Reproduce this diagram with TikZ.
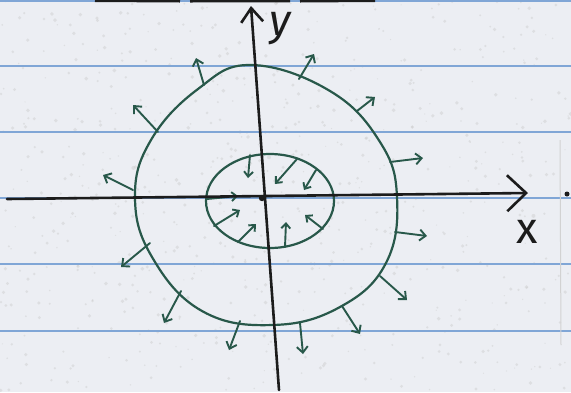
\documentclass[tikz,border=0pt]{standalone}
\usepackage{fontspec}
\newfontfamily\handfont{Fira Sans}
\usetikzlibrary{arrows.meta}
\definecolor{paper}{RGB}{236,238,243}
\definecolor{rule}{RGB}{128,166,214}
\definecolor{ink}{RGB}{40,88,74}
\definecolor{pen}{RGB}{28,28,28}
\tikzset{
  outarr/.style={draw=ink, line width=1.9pt, line cap=round, -{Straight Barb[length=6pt,width=11pt,line width=1.9pt]}},
  inarr/.style={draw=ink, line width=1.9pt, line cap=round, -{Straight Barb[length=5pt,width=9pt,line width=1.9pt]}},
  ruling/.style={draw=rule, line width=2pt},
  axis/.style={draw=pen, line width=2.6pt, line cap=round},
  lab/.style={font=\handfont\fontsize{44}{44}\selectfont, text=pen, inner sep=0pt},
}
\begin{document}
\begin{tikzpicture}[x=1pt,y=-1pt]
\useasboundingbox (0,0) rectangle (571,392);
\fill[paper] (0,0) rectangle (571,392);
\pgfmathsetseed{11}
\foreach \i in {1,...,700} {
  \fill[gray!40, opacity=0.45] (rnd*571, rnd*392) circle (0.6pt+rnd*1.4pt);
}
% ruled lines
\foreach \yy in {1,66,132,198,264,331} {
  \draw[ruling] (0,\yy) -- (571,\yy);
}
% faint margin line
\draw[gray!35, line width=1pt] (560,140) -- (561,345);
% cut-off handwriting at the top
\draw[pen, line width=3pt] (95,0.5) -- (180,1) (190,1) -- (290,0.8) (300,1) -- (375,0.5);
% outer closed curve
\draw[ink, line width=2.2pt] plot[smooth cycle, tension=0.7] coordinates {
  (251,65) (330,91) (380,142) (397,197) (386,263) (340,307) (273,325)
  (202,311) (152,257) (135,197) (151,140) (198,89)};
% inner ellipse
\draw[ink, line width=2.2pt] (270,201) ellipse [x radius=64, y radius=47];
% outer outward arrows
\draw[outarr] (204,85) -- (196,58);
\draw[outarr] (299,79) -- (314,54);
\draw[outarr] (357,111) -- (375,97);
\draw[outarr] (390,162) -- (423,158);
\draw[outarr] (395,232) -- (427,236);
\draw[outarr] (380,276) -- (407,300);
\draw[outarr] (342,306) -- (360,334);
\draw[outarr] (300,323) -- (303,354);
\draw[outarr] (240,321) -- (229,350);
\draw[outarr] (181,291) -- (164,323);
\draw[outarr] (150,243) -- (121,267);
\draw[outarr] (133,190) -- (103,175);
\draw[outarr] (158,132) -- (133,105);
% inner inward arrows
\draw[inarr] (250,155) -- (248,178);
\draw[inarr] (297,159) -- (275,184);
\draw[inarr] (316,170) -- (304,190);
\draw[inarr] (207,199) -- (238,196);
\draw[inarr] (214,226) -- (240,210);
\draw[inarr] (238,242) -- (256,224);
\draw[inarr] (285,247) -- (286,222);
\draw[inarr] (323,229) -- (305,215);
% axes
\coordinate (xs) at (7,199);
\coordinate (xe) at (528,193);
\coordinate (ys) at (279,390);
\coordinate (ye) at (251,6);
\draw[axis, -{Straight Barb[length=19pt,width=36pt,line width=2.6pt]}] (xs) -- (xe);
\draw[axis, -{Straight Barb[length=14pt,width=22pt,line width=2.6pt]}] (ys) -- (ye);
\fill[pen] (262,198) circle (3.2pt);
\fill[pen] (567,194) circle (2.5pt);
% labels
\node[lab, anchor=base] (xl) at (527,243) {x};
\node[lab, anchor=base] (yl) at (280,35) {\itshape y};
\end{tikzpicture}
\end{document}
